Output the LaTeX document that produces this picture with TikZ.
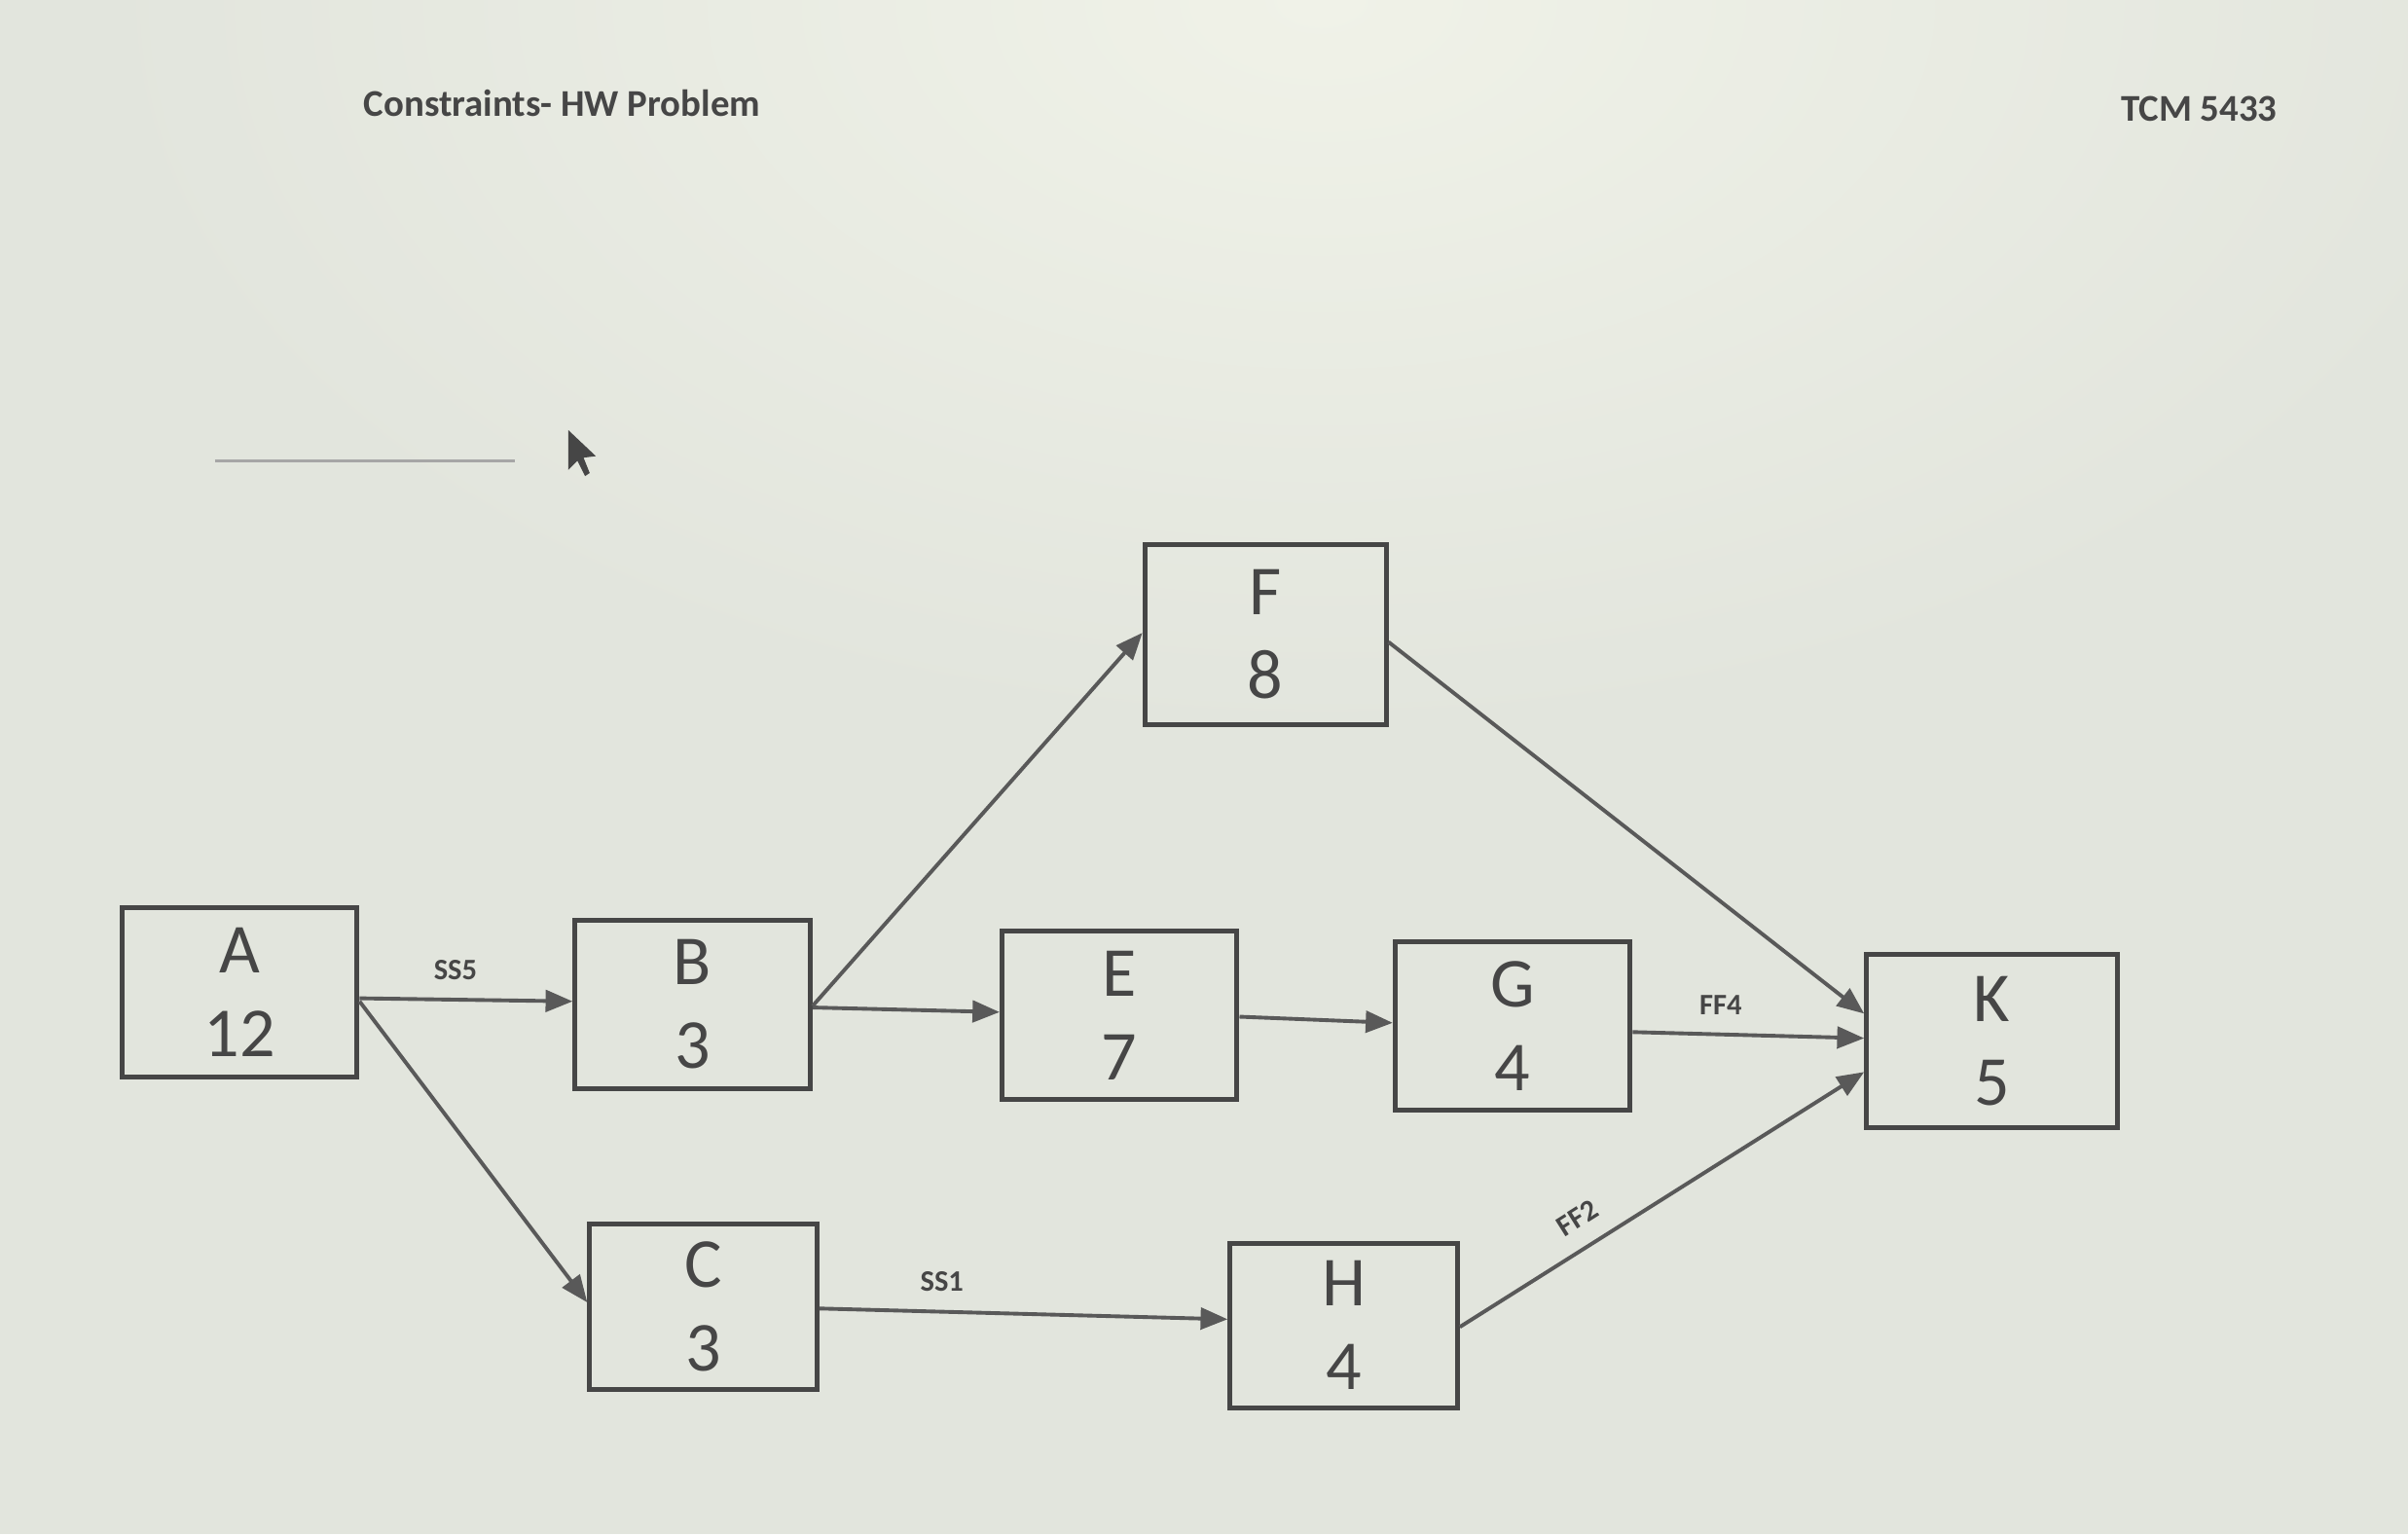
\documentclass[tikz,border=0pt]{standalone}
\usepackage{fontspec}
\setmainfont{Carlito}
\usetikzlibrary{arrows.meta}
\definecolor{bg}{RGB}{226,229,221}
\definecolor{lite}{RGB}{240,242,232}
\definecolor{ln}{RGB}{70,70,70}
\begin{document}
\begin{tikzpicture}[x=0.01cm,y=-0.01cm,
  act/.style={draw=ln,line width=0.9pt,minimum width=1.53cm,minimum height=1.1cm,align=center,font=\fontsize{13}{15.5}\selectfont,text=ln},
  con/.style={draw=ln!90,line width=0.7pt,-{Triangle[length=5pt,width=4pt]}},
  lab/.style={font=\bfseries\fontsize{5.5}{6}\selectfont,text=ln}]
\useasboundingbox (0,0) rectangle (1568,999);
\begin{scope}
\clip (0,0) rectangle (1568,999);
\fill[bg] (0,0) rectangle (1568,999);
\shade[inner color=lite,outer color=bg] (860,0) ellipse (800 and 480);
\end{scope}
\node[font=\bfseries\fontsize{7}{8}\selectfont,text=ln] (t1) at (366,67) {Constraints- HW Problem};
\node[font=\bfseries\fontsize{7}{8}\selectfont,text=ln] (t2) at (1432,71) {TCM 5433};
\draw[gray!70,line width=0.5pt] (140,300) -- (335,300);
\fill[ln] (370,280) -- (370,306) -- (376,300) -- (381,310) -- (384,308) -- (380,298) -- (388,297) -- cycle;
\node[act] (A) at (156,646) {A\\12};
\node[act] (B) at (451,654) {B\\3};
\node[act,minimum width=1.48cm,minimum height=1.06cm] (C) at (458,851) {C\\3};
\node[act] (E) at (729,661) {E\\7};
\node[act,minimum width=1.57cm,minimum height=1.17cm] (F) at (824,413) {F\\8};
\node[act] (G) at (985,668) {G\\4};
\node[act,minimum width=1.48cm,minimum height=1.07cm] (H) at (875,863) {H\\4};
\node[act,minimum width=1.63cm,minimum height=1.13cm] (K) at (1297,678) {K\\5};
\draw[con] (A.east |- 0,650) -- node[lab,above,pos=0.45]{SS5} (B.west |- 0,652);
\draw[con] (A.east |- 0,652) -- (C.west |- 0,848);
\draw[con] (B.east |- 0,655) -- (F.west |- 0,412);
\draw[con] (B.east |- 0,656) -- (E.west |- 0,659);
\draw[con] (E.east |- 0,662) -- (G.west |- 0,666);
\draw[con] (F.east |- 0,418) -- (K.west |- 0,660);
\draw[con] (G.east |- 0,672) -- node[lab,above,pos=0.38]{FF4} (K.west |- 0,676);
\draw[con] (C.east |- 0,852) -- node[lab,above,pos=0.3]{SS1} (H.west |- 0,859);
\draw[con] (H.east |- 0,864) -- node[lab,above,sloped,pos=0.33]{FF2} (K.west |- 0,698);
\end{tikzpicture}
\end{document}
